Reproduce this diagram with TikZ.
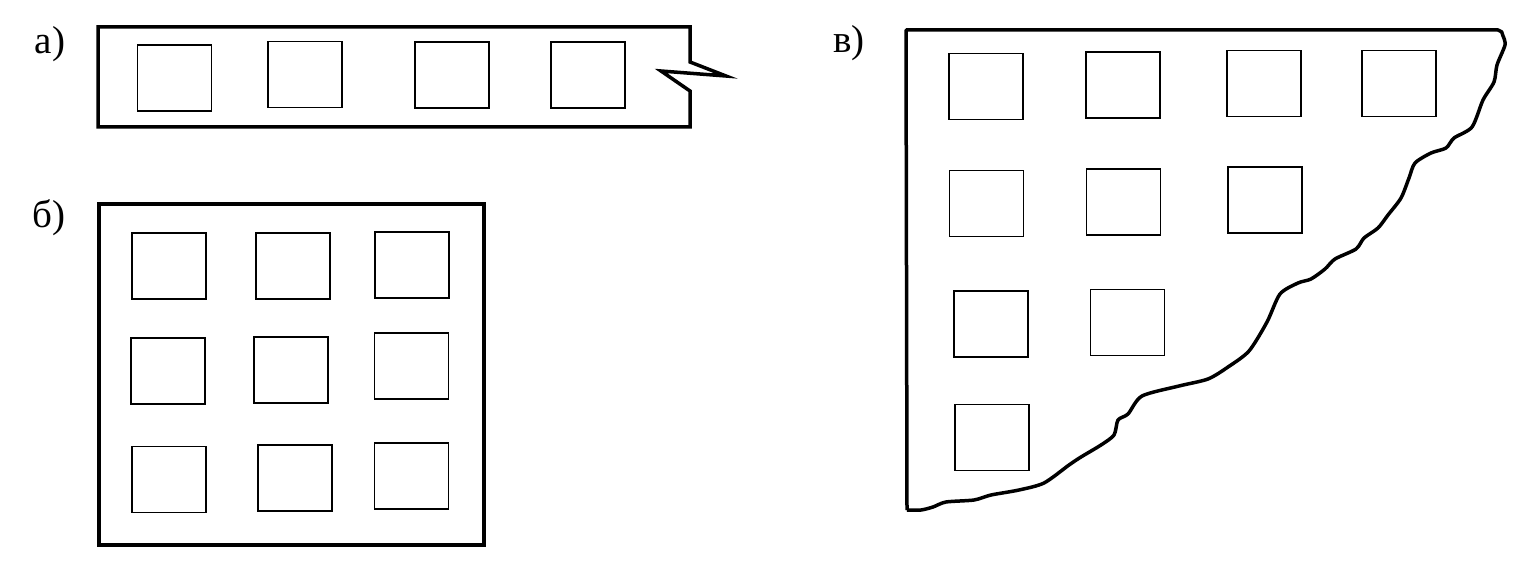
\documentclass[tikz,border=0pt]{standalone}
\usepackage{fontspec}
\setmainfont{Liberation Serif}
\newcommand{\lblsize}{\fontsize{39pt}{42pt}\selectfont}
\begin{document}
\begin{tikzpicture}[x=1pt,y=-1pt,
  outer/.style={line width=3.5pt,line join=miter},
  sq/.style={draw,line width=1.4pt,minimum width=74pt,minimum height=66pt,inner sep=0pt,outer sep=0pt},
  lbl/.style={inner sep=0pt}]
\useasboundingbox (0,0) rectangle (1521,569);
% labels
\node[lbl] (la) at (50,44) {\lblsize а)};
\node[lbl] (lb) at (49,218) {\lblsize б)};
\node[lbl] (lv) at (849,43) {\lblsize в)};
% part a
\draw[outer] (690,62) -- (690,27) -- (98,27) -- (98,127) -- (690,127) -- (690,91) -- (661,71) -- (726,76) -- cycle;
\node[sq] (a1) at (174.5,78) {};
\node[sq] (a2) at (305,74.5) {};
\node[sq] (a3) at (452,75) {};
\node[sq] (a4) at (588,75) {};
% part b
\draw[outer] (99,204) rectangle (484,545);
\node[sq] (b11) at (169,266) {};
\node[sq] (b12) at (293,266) {};
\node[sq] (b13) at (412,265) {};
\node[sq] (b21) at (168,371) {};
\node[sq] (b22) at (291,370) {};
\node[sq] (b23) at (411.5,366) {};
\node[sq] (b31) at (169,479.5) {};
\node[sq] (b32) at (295,478) {};
\node[sq] (b33) at (411.5,476) {};
% part v
\draw[outer,line join=round] (907,510) -- (906,30) -- (1498,30) to[out=0,in=90] (1503,36)
  plot[smooth,tension=0.45] coordinates {(1503,36) (1505,45) (1497,65) (1494,82) (1483,100) (1472,127) (1454,138) (1446,148) (1431,153) (1415,163) (1409,178) (1401,198) (1388,215) (1378,228) (1364,238) (1356,249) (1335,259) (1325,269) (1311,279) (1298,283) (1280,294) (1267,322) (1249,351) (1228,367) (1208,379) (1179,386) (1142,396) (1128,414) (1118,420) (1114,435) (1101,445) (1081,457) (1069,465) (1044,483) (1019,490) (991,495) (974,500) (946,502) (933,507) (921,510) (907,510)};
\node[sq] (v11) at (986,86.5) {};
\node[sq] (v12) at (1123,85) {};
\node[sq] (v13) at (1264,83.5) {};
\node[sq] (v14) at (1399,83.5) {};
\node[sq] (v21) at (986.5,203.5) {};
\node[sq] (v22) at (1123.5,202) {};
\node[sq] (v23) at (1265,200) {};
\node[sq] (v31) at (991,324) {};
\node[sq] (v32) at (1127.5,322.5) {};
\node[sq] (v41) at (992,437.5) {};
\end{tikzpicture}
\end{document}
